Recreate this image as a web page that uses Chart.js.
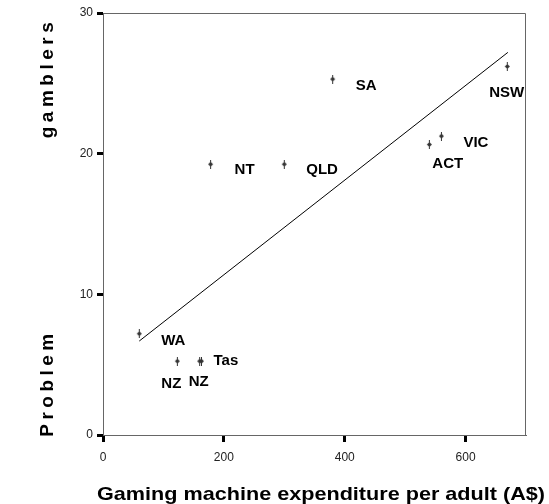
<!DOCTYPE html>
<html>
<head>
<meta charset="utf-8">
<script src="https://cdn.jsdelivr.net/npm/chart.js@4.4.0/dist/chart.umd.min.js"></script>
<style>
  html, body { margin: 0; padding: 0; background: #fff; }
  #wrap { width: 549px; height: 504px; position: relative; }
</style>
</head>
<body>
<div id="wrap"><canvas id="c" width="549" height="504"></canvas></div>
<script>
// ---- data ----
const regions     = ["WA", "NZ", "NZ", "Tas", "NT", "QLD", "SA", "ACT", "VIC", "NSW"];
const expenditure = [60, 123, 160, 163, 178, 300, 380, 540, 560, 669];
const problemPct  = [7.2, 5.25, 5.25, 5.25, 19.25, 19.25, 25.3, 20.65, 21.25, 26.2];
const fitX = [60, 670];
const fitY = [6.68, 27.2];
const xTicks = [0, 200, 400, 600];
const yTicks = [0, 10, 20, 30];
const xTitle = "Gaming machine expenditure per adult (A$)";
const yTitleLower = "Problem";
const yTitleUpper = "gamblers";

// label placement (pixel offsets from each point), layout only
const labelOffsets = [[22,7],[-16,23],[-11,21],[12,0],[24,6],[22,6],[23,7],[3,19],[22,7],[-18,26]];

const FONT = "Arial, 'Liberation Sans', Helvetica, sans-serif";

// marker glyph
const mk = document.createElement('canvas');
mk.width = 7; mk.height = 9;
(function(){
  const g = mk.getContext('2d');
  g.fillStyle = '#333';
  g.beginPath();
  g.moveTo(3.5, 2); g.lineTo(6, 4.5); g.lineTo(3.5, 7); g.lineTo(1, 4.5); g.closePath();
  g.fill();
  g.fillRect(3, 0, 1, 9);
})();

const pts = expenditure.map((x, i) => ({ x: x, y: problemPct[i] }));
const fitPts = fitX.map((x, i) => ({ x: x, y: fitY[i] }));

const decor = {
  id: 'decor',
  afterDatasetsDraw(chart) {
    const ctx = chart.ctx;
    const meta = chart.getDatasetMeta(0);
    ctx.save();
    ctx.fillStyle = '#000';
    ctx.font = 'bold 15px ' + FONT;
    ctx.textAlign = 'left';
    ctx.textBaseline = 'middle';
    meta.data.forEach((el, i) => {
      const o = labelOffsets[i];
      ctx.fillText(regions[i], el.x + o[0], el.y + o[1]);
    });
    ctx.restore();
  },
  afterDraw(chart) {
    const ctx = chart.ctx;
    const a = chart.chartArea;
    ctx.save();
    ctx.strokeStyle = '#666';
    ctx.lineWidth = 1;
    ctx.beginPath();
    ctx.moveTo(a.left, a.top + 0.5);
    ctx.lineTo(a.right - 0.5, a.top + 0.5);
    ctx.lineTo(a.right - 0.5, a.bottom);
    ctx.stroke();

    // x title (stretched to the reference width)
    ctx.fillStyle = '#000';
    ctx.font = 'bold 19px ' + FONT;
    ctx.textAlign = 'center';
    ctx.textBaseline = 'middle';
    const w = ctx.measureText(xTitle).width;
    ctx.save();
    ctx.translate(321, 495);
    ctx.scale(448 / w, 1);
    ctx.fillText(xTitle, 0, 0);
    ctx.restore();

    // y title pieces (rotated)
    ctx.font = 'bold 19px ' + FONT;
    ctx.letterSpacing = '4.5px';
    ctx.textBaseline = 'alphabetic';
    ctx.textAlign = 'center';
    ctx.save();
    ctx.translate(53, 385);
    ctx.rotate(-Math.PI / 2);
    ctx.fillText(yTitleLower, 2, 0);
    ctx.restore();
    ctx.save();
    ctx.translate(53, 80);
    ctx.rotate(-Math.PI / 2);
    ctx.fillText(yTitleUpper, 2, 0);
    ctx.restore();
    ctx.restore();
  }
};

new Chart(document.getElementById('c'), {
  type: 'scatter',
  data: {
    datasets: [
      {
        data: pts,
        pointStyle: mk,
        pointRadius: 4,
        pointHoverRadius: 4
      },
      {
        type: 'line',
        data: fitPts,
        showLine: true,
        borderColor: '#000',
        borderWidth: 1,
        pointRadius: 0,
        fill: false
      }
    ]
  },
  plugins: [decor],
  options: {
    responsive: false,
    animation: false,
    events: [],
    layout: { padding: { left: 0, right: 23, top: 13, bottom: 0 } },
    plugins: { legend: { display: false }, tooltip: { enabled: false } },
    scales: {
      x: {
        type: 'linear', min: 0, max: 700,
        afterBuildTicks: s => { s.ticks = xTicks.map(v => ({ value: v })); },
        afterFit: s => { s.height = 69; },
        grid: { display: true, drawOnChartArea: false, drawTicks: true, tickLength: 7, tickWidth: 3, tickColor: '#000' },
        border: { display: true, color: '#666', width: 1 },
        ticks: { color: '#222', font: { family: FONT, size: 12 }, padding: 8, maxRotation: 0 }
      },
      y: {
        type: 'linear', min: 0, max: 30,
        afterBuildTicks: s => { s.ticks = yTicks.map(v => ({ value: v })); },
        afterFit: s => { s.width = 103; },
        grid: { display: true, drawOnChartArea: false, drawTicks: true, tickLength: 6, tickWidth: 3, tickColor: '#000' },
        border: { display: true, color: '#666', width: 1 },
        ticks: { color: '#222', font: { family: FONT, size: 12 }, padding: 4 }
      }
    }
  }
});
</script>
</body>
</html>
